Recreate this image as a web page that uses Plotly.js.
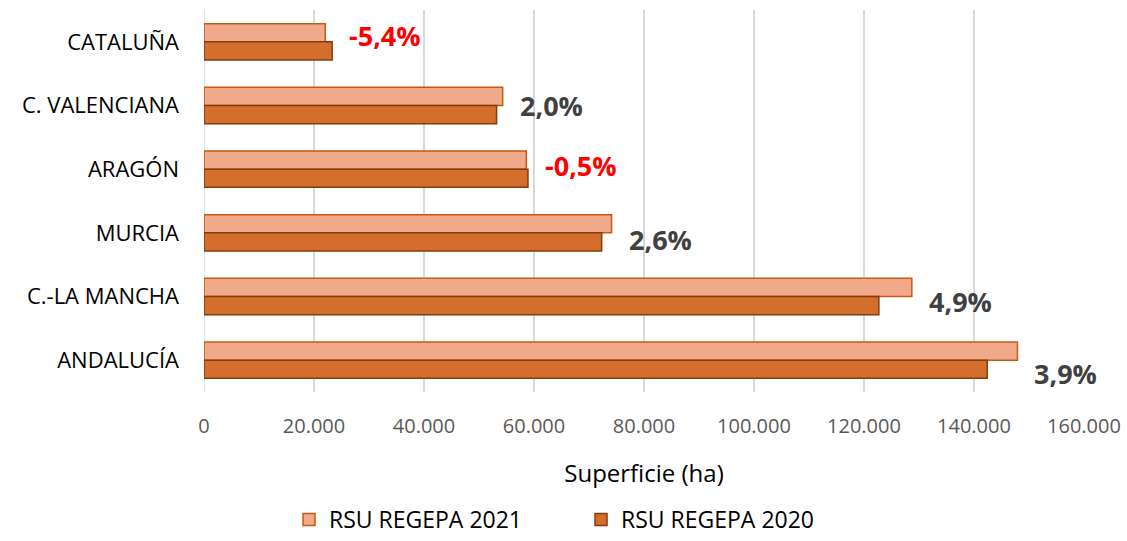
<!DOCTYPE html>
<html>
<head>
<meta charset="utf-8">
<script src="https://cdn.plot.ly/plotly-3.0.1.min.js"></script>
<style>html,body{margin:0;padding:0;background:#fff;}#chart{width:1127px;height:541px;}</style>
</head>
<body>
<div id="chart"></div>
<script>
const regions = ["CATALUÑA", "C. VALENCIANA", "ARAGÓN", "MURCIA", "C.-LA MANCHA", "ANDALUCÍA"];
const rsu2021 = [22050, 54300, 58600, 74100, 128700, 147900];
const rsu2020 = [23300, 53200, 58900, 72300, 122700, 142400];
const changeLabels = ["-5,4%", "2,0%", "-0,5%", "2,6%", "4,9%", "3,9%"];
const tickVals = [0, 20000, 40000, 60000, 80000, 100000, 120000, 140000, 160000];
const tickText = ["0", "20.000", "40.000", "60.000", "80.000", "100.000", "120.000", "140.000", "160.000"];

// label placement (styling, not data)
const labelYShift = [6, 0, 4, -7, -5, -13];

const FONT = "Open Sans, Lato, sans-serif";

const traces = [
  {
    type: "bar", orientation: "h", name: "RSU REGEPA 2021",
    y: regions, x: rsu2021,
    marker: {color: "#F1A98B", line: {color: "#C55A11", width: 1.5}},
    hoverinfo: "skip"
  },
  {
    type: "bar", orientation: "h", name: "RSU REGEPA 2020",
    y: regions, x: rsu2020,
    marker: {color: "#D36E2C", line: {color: "#843C0C", width: 1.5}},
    hoverinfo: "skip"
  }
];

const annotations = regions.map((r, i) => ({
  x: Math.max(rsu2021[i], rsu2020[i]),
  y: r,
  xref: "x", yref: "y",
  text: "<b>" + changeLabels[i] + "</b>",
  showarrow: false,
  xanchor: "left", yanchor: "middle",
  xshift: 15, yshift: labelYShift[i],
  font: {family: FONT, size: 27, color: changeLabels[i].startsWith("-") ? "#FF0000" : "#404040"}
}));

const layout = {
  width: 1127, height: 541,
  margin: {l: 204, r: 43, t: 10, b: 149},
  paper_bgcolor: "#ffffff", plot_bgcolor: "#ffffff",
  font: {family: FONT, color: "#595959"},
  barmode: "group", bargap: 0.43, bargroupgap: 0,
  showlegend: true,
  legend: {
    orientation: "h", xref: "container", yref: "container",
    x: 289 / 1127, xanchor: "left", y: 0, yanchor: "bottom",
    traceorder: "normal",
    font: {family: FONT, size: 23, color: "#000000"},
    entrywidth: 247, entrywidthmode: "pixels"
  },
  xaxis: {
    range: [0, 160000],
    tickvals: tickVals, ticktext: tickText,
    showgrid: true, gridcolor: "#D9D9D9", gridwidth: 1.5,
    zeroline: false, showline: false, ticks: "",
    ticklabelstandoff: 20,
    tickfont: {family: FONT, size: 20, color: "#595959"},
    title: {text: "Superficie (ha)", font: {family: FONT, size: 24, color: "#000000"}, standoff: 27},
    fixedrange: true
  },
  yaxis: {
    type: "category", autorange: "reversed",
    showgrid: false, zeroline: false, showline: false, ticks: "",
    ticklabelstandoff: 24,
    tickfont: {family: FONT, size: 22, color: "#000000"},
    fixedrange: true
  },
  annotations: annotations,
  shapes: [
    {type: "line", xref: "x", yref: "paper", x0: 0, x1: 0, y0: 0, y1: 1, line: {color: "#D9D9D9", width: 1.5}, layer: "below"}
  ]
};

Plotly.newPlot("chart", traces, layout, {displayModeBar: false, staticPlot: true});
</script>
</body>
</html>
